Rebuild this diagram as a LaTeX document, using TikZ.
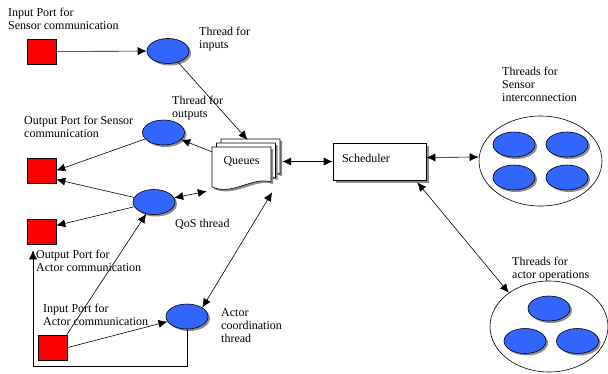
\documentclass[tikz,border=0pt]{standalone}
\usepackage{fontspec}
\setmainfont{Liberation Serif}
\usetikzlibrary{shapes,arrows.meta,positioning,calc,shadows}
\definecolor{portRed}{HTML}{FF0000}
\definecolor{threadBlue}{HTML}{3366FF}
\definecolor{shadowGray}{HTML}{8C8C8C}

\begin{document}
\begin{tikzpicture}[
            x=1pt, y=-1pt,
            every node/.style={font=\fontsize{12}{13}\selectfont},
            port/.style={
                    rectangle,
                    draw,
                    fill=portRed,
                    line width=0.6pt,
                    minimum width=29pt,
                    minimum height=25pt,
                    inner sep=0pt
                },
            thread/.style={
                    ellipse,
                    draw,
                    fill=threadBlue,
                    line width=0.6pt,
                    minimum width=42pt,
                    minimum height=25pt,
                    inner sep=0pt,
                    drop shadow={shadow xshift=2pt, shadow yshift=-2pt, fill=shadowGray, opacity=1}
                },
            group/.style={
                    ellipse,
                    draw,
                    line width=0.6pt,
                    inner sep=0pt
                },
            page/.style={
                    draw,
                    fill=white,
                    line width=0.6pt,
                    drop shadow={shadow xshift=2pt, shadow yshift=-2pt, fill=shadowGray, opacity=1}
                },
            schedbox/.style={
                    rectangle,
                    draw,
                    fill=white,
                    line width=0.6pt,
                    minimum width=93pt,
                    minimum height=37pt,
                    text width=75pt,
                    text depth=7pt,
                    align=left,
                    drop shadow={shadow xshift=3pt, shadow yshift=-3pt, fill=shadowGray, opacity=1}
                },
            lbl/.style={
                    anchor=base west,
                    align=left,
                    inner sep=0pt
                },
            arrow/.style={
                    -{Latex[length=9pt,width=8pt]},
                    line width=0.6pt
                },
            dblarrow/.style={
                    {Latex[length=9pt,width=8pt]}-{Latex[length=9pt,width=8pt]},
                    line width=0.6pt
                }
        ]
        \useasboundingbox (0,0) rectangle (608,373);

        % Ports
        \node[port] (insq) at (41.5,51.5) {};
        \node[port] (outsq) at (41.5,170.5) {};
        \node[port] (outsq2) at (41.5,231.5) {};
        \node[port] (insq2) at (53,347.5) {};

        % Threads
        \node[thread] (inputs) at (168,51) {};
        \node[thread] (outputs) at (163.5,132.5) {};
        \node[thread] (qos) at (154,202) {};
        \node[thread] (actor) at (187,316.5) {};

        % Queues
        \coordinate (qnw) at (212,147);
        \foreach \dx/\dy in {9/-8, 4.5/-4, 0/0}
            \draw[page] ($(qnw)+(\dx,\dy)$) -- ++(59,0) -- ++(0,35)
                .. controls +(-18,-6) and +(21,9) .. ++(-59,5) -- cycle;
        \node[inner sep=0pt, minimum width=59pt, minimum height=41pt, text depth=14pt]
            (queues) at ($(qnw)+(29.5,20.5)$) {Queues};
        \coordinate (qright) at ($(queues.east)+(11,0)$);

        % Scheduler
        \node[schedbox] (sched) at (379.5,161.5) {Scheduler};

        % Thread groups
        \node[group, minimum width=123pt, minimum height=90pt] (sensgrp) at (540.5,161) {};
        \foreach \px/\py [count=\i] in {514/144.5, 567/144.5, 514/177.5, 567/177.5}
            \node[thread] (sens\i) at (\px,\py) {};

        \node[group, minimum width=118pt, minimum height=91pt] (actgrp) at (549,326.5) {};
        \foreach \px/\py [count=\i] in {549/308.5, 525/341, 577.5/341}
            \node[thread] (act\i) at (\px,\py) {};

        % Labels (base = last line)
        \node[lbl] (lblInSens) at (8,29.5) {Input Port for\\Sensor communication};
        \node[lbl] (lblInputs) at (199,48) {Thread for\\inputs};
        \node[lbl] (lblOutputs) at (172,117) {Thread for\\outputs};
        \node[lbl] (lblOutSens) at (24,137.5) {Output Port for Sensor\\communication};
        \node[lbl] (lblQos) at (175,227) {QoS thread};
        \node[lbl] (lblOutAct) at (36,271) {Output Port for\\Actor communication};
        \node[lbl] (lblInAct) at (43,325) {Input Port for\\Actor communication};
        \node[lbl] (lblActor) at (221,342) {Actor\\coordination\\thread};
        \node[lbl] (lblSens) at (502,101) {Threads for\\Sensor\\interconnection};
        \node[lbl] (lblActOps) at (512,278) {Threads for\\actor operations};

        % Connections
        \draw[arrow] (insq) -- (inputs);
        \draw[arrow] (inputs) -- ($(queues.north)+(6,-7)$);
        \draw[arrow] ($(queues.north west)+(0,5)$) -- (outputs);
        \draw[arrow] (outputs) -- (outsq.east);
        \draw[arrow] (qos) -- ($(outsq.east)+(0,9)$);
        \draw[arrow] (qos) -- ($(outsq2.east)+(0,-6)$);
        \draw[dblarrow] (qos) -- ($(queues.south west)+(-5,3)$);
        \draw[arrow] ($(insq2.north east)+(-1,0)$) -- (qos);
        \draw[arrow] (insq2.east) -- (actor);
        \draw[dblarrow] (actor.30) -- ($(queues.south east)+(1,4)$);

        \coordinate (loopc) at (33,366);
        \draw[arrow, shorten >=6pt] (actor.south) |- (loopc) -- (loopc |- outsq2.south);

        \draw[dblarrow] (sched.west -| qright) -- (sched.west);
        \draw[dblarrow] ($(sched.east)+(0,-4)$) -- ($(sensgrp.west)+(0,-4)$);
        \draw[dblarrow] ($(sched.south east)+(-9,2)$) -- (actgrp.140);

    \end{tikzpicture}
\end{document}
